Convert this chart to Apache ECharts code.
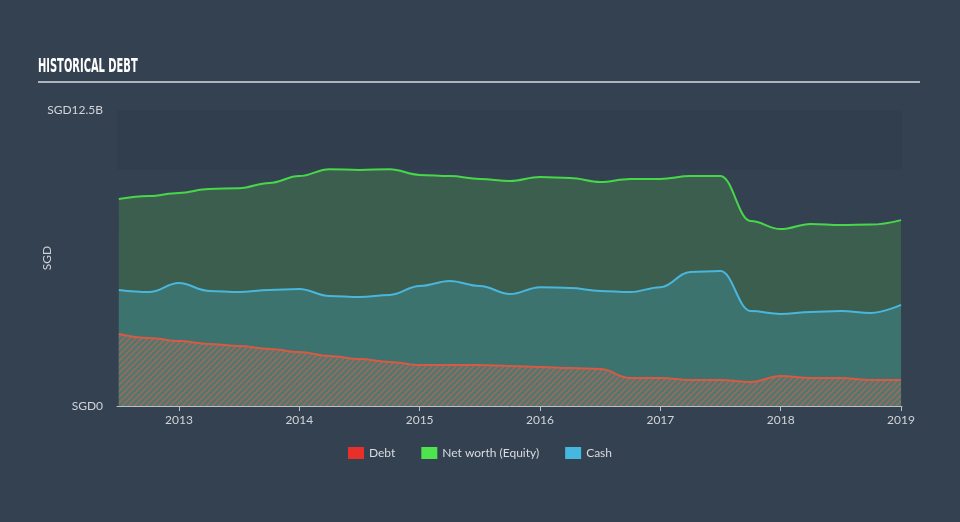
<!DOCTYPE html>
<html>
<head>
<meta charset="utf-8">
<script src="https://cdn.jsdelivr.net/npm/echarts@6/dist/echarts.min.js"></script>
<style>
html,body{margin:0;padding:0;background:#344151;}
#c{width:960px;height:522px;}
</style>
</head>
<body>
<div id="c"></div>
<script>
// Quarterly dates (decimal years)
const dates = [2012.5,2012.75,2013,2013.25,2013.5,2013.75,2014,2014.25,2014.5,2014.75,2015,2015.25,2015.5,2015.75,2016,2016.25,2016.5,2016.75,2017,2017.25,2017.5,2017.75,2018,2018.25,2018.5,2018.75,2019];
// Values in SGD billions
const equity = [8.74,8.87,9.0,9.16,9.2,9.42,9.71,10.0,9.97,10.0,9.76,9.71,9.59,9.5,9.67,9.63,9.46,9.59,9.59,9.71,9.71,7.81,7.47,7.69,7.64,7.66,7.85];
const cash = [4.9,4.81,5.19,4.86,4.81,4.9,4.94,4.65,4.6,4.69,5.07,5.28,5.07,4.73,5.02,4.98,4.86,4.81,5.02,5.66,5.7,4.01,3.89,3.97,4.01,3.93,4.27];
const debt = [3.04,2.87,2.74,2.62,2.53,2.41,2.28,2.11,1.98,1.86,1.73,1.73,1.73,1.69,1.65,1.6,1.56,1.18,1.18,1.1,1.1,1.01,1.27,1.18,1.18,1.1,1.1];
const yearTicks = [2013,2014,2015,2016,2017,2018,2019];

function pair(arr){ return dates.map((d,i)=>[d,arr[i]]); }

// hatch pattern for debt
const pc = document.createElement('canvas');
pc.width = 6; pc.height = 6;
const g = pc.getContext('2d');
g.fillStyle = '#4f786f';
g.fillRect(0,0,6,6);
g.strokeStyle = '#9a6a5c';
g.lineWidth = 1.6;
g.beginPath();
g.moveTo(0,6); g.lineTo(6,0);
g.moveTo(-3,3); g.lineTo(3,-3);
g.moveTo(3,9); g.lineTo(9,3);
g.stroke();

const chart = echarts.init(document.getElementById('c'));
const labelFont = 'Lato';
chart.setOption({
  backgroundColor: '#344151',
  animation: false,
  grid: {left:117, right:58, top:110, bottom:116, containLabel:false},
  graphic: [
    {type:'text', left:38, top:58, scaleX:0.58, style:{text:'HISTORICAL DEBT', fill:'#ffffff', font:'bold 19px "DejaVu Sans Condensed"'}},
    {type:'line', shape:{x1:38,y1:82,x2:920,y2:82}, style:{stroke:'#aeb4bc', lineWidth:2}}
  ],
  legend: {
    bottom: 58, left: 'center', icon: 'rect', itemWidth: 16, itemHeight: 12, itemGap: 26,
    textStyle: {color:'#d8dce0', fontSize:12, fontFamily: labelFont},
    data: ['Debt','Net worth (Equity)','Cash']
  },
  xAxis: {
    type:'value', min:2012.485, max:2019.008,
    axisLine:{show:true, lineStyle:{color:'#b8c0c8', width:1}},
    axisTick:{show:true, customValues: yearTicks, length:5, lineStyle:{color:'#b8c0c8'}},
    axisLabel:{customValues: yearTicks, color:'#d0d4d8', fontSize:12, fontFamily: labelFont, margin:8, formatter: v=>String(Math.round(v))},
    splitLine:{show:false}
  },
  yAxis: {
    type:'value', min:0, max:12.5, interval:12.5,
    name:'SGD', nameLocation:'middle', nameGap:64, nameRotate:90, nameMoveOverlap:false,
    nameTextStyle:{color:'#d0d4d8', fontSize:12, fontFamily: labelFont},
    axisLine:{show:false}, axisTick:{show:false},
    axisLabel:{color:'#d0d4d8', fontSize:12, fontFamily: labelFont, margin:14, formatter: v=> v===0 ? 'SGD0' : 'SGD12.5B'},
    splitLine:{show:false}
  },
  series: [
    {
      name:'Net worth (Equity)', type:'line', data: pair(equity), smooth:0.4, smoothMonotone:'x', showSymbol:false,
      itemStyle:{color:'#4ee44e'}, lineStyle:{color:'#47d84a', width:2},
      areaStyle:{color:'#3b5e4e', opacity:1}, z:1,
      markArea:{silent:true, itemStyle:{color:'rgba(20,30,45,0.09)'}, data:[[{yAxis:10},{yAxis:12.5}]]}
    },
    {
      name:'Cash', type:'line', data: pair(cash), smooth:0.4, smoothMonotone:'x', showSymbol:false,
      itemStyle:{color:'#46b8e0'}, lineStyle:{color:'#4ab6dc', width:2},
      areaStyle:{color:'#3c736e', opacity:1}, z:2
    },
    {
      name:'Debt', type:'line', data: pair(debt), smooth:0.4, smoothMonotone:'x', showSymbol:false,
      itemStyle:{color:'#e8302a'}, lineStyle:{color:'#d85a44', width:2},
      areaStyle:{color:{image: pc, repeat:'repeat'}, opacity:1}, z:3
    }
  ]
});
</script>
</body>
</html>
